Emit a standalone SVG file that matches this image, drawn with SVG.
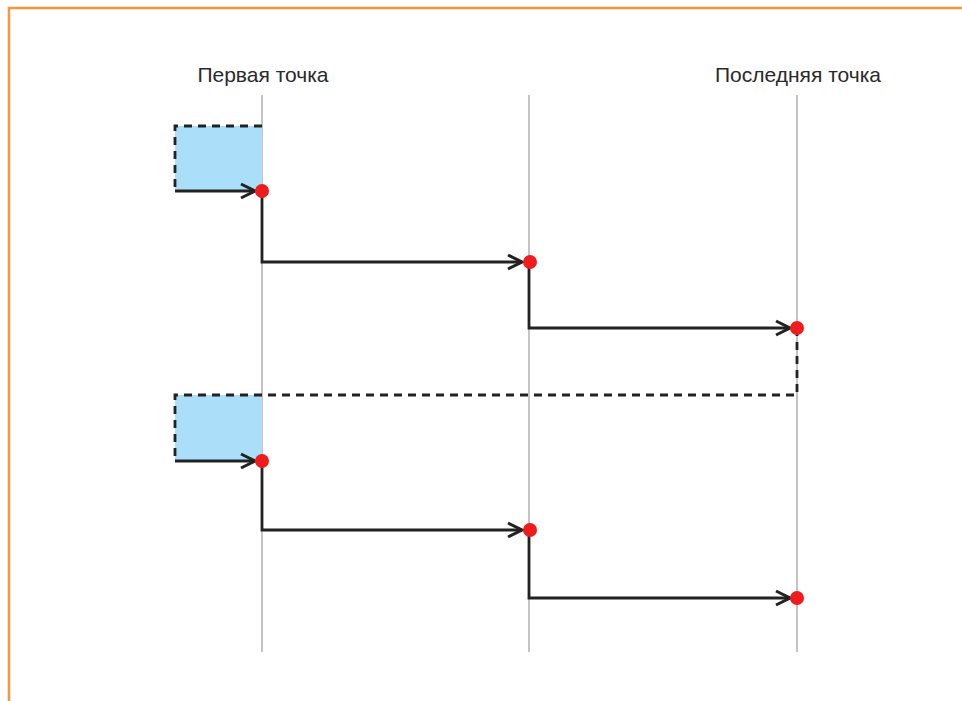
<svg xmlns="http://www.w3.org/2000/svg" width="962" height="701" viewBox="0 0 962 701">
<defs>
<style>
.guide{stroke:#c4c4c4;stroke-width:2;fill:none}
.conn{stroke:#222;stroke-width:2.8;fill:none}
.dash{stroke:#222;stroke-width:2.8;fill:none;stroke-dasharray:8,6}
.box{fill:#abdff9;stroke:none}
.dot{fill:#ee1c1c}
.lbl{font-family:"Liberation Sans",Arial,sans-serif;font-size:21px;fill:#2a2a2a;text-anchor:middle}
</style>
<marker id="arr" viewBox="0 0 18 18" refX="16" refY="9" markerWidth="18" markerHeight="18" markerUnits="userSpaceOnUse" orient="auto">
<path d="M2,2 L16,9 L2,16" fill="none" stroke="#222" stroke-width="3"/>
</marker>
</defs>
<rect width="962" height="701" fill="#fff"/>
<path d="M9,701 V8 H962" fill="none" stroke="#f7993a" stroke-width="2.5"/>
<g id="guides">
<line class="guide" x1="262" y1="95" x2="262" y2="652"/>
<line class="guide" x1="529" y1="95" x2="529" y2="652"/>
<line class="guide" x1="797" y1="95" x2="797" y2="652"/>
</g>
<text class="lbl" x="263" y="82">Первая точка</text>
<text class="lbl" x="798" y="82">Последняя точка</text>
<g id="box1"><rect class="box" x="175" y="126" width="87" height="65"/></g>
<g id="box2"><rect class="box" x="175" y="395" width="87" height="66"/></g>
<g id="connectors">
<path class="dash" d="M262,126 H175 V191"/>
<line class="conn" x1="175" y1="191" x2="255" y2="191" marker-end="url(#arr)"/>
<path class="conn" d="M262,191 V262 H522" marker-end="url(#arr)"/>
<path class="conn" d="M529,262 V328 H790" marker-end="url(#arr)"/>
<path class="dash" d="M797,328 V395 H175 V461"/>
<line class="conn" x1="175" y1="461" x2="255" y2="461" marker-end="url(#arr)"/>
<path class="conn" d="M262,461 V530 H522" marker-end="url(#arr)"/>
<path class="conn" d="M529,530 V598 H790" marker-end="url(#arr)"/>
</g>
<g id="p1"><circle class="dot" cx="262" cy="191" r="7"/></g>
<g id="p2"><circle class="dot" cx="530" cy="262" r="7"/></g>
<g id="p3"><circle class="dot" cx="797" cy="328" r="7"/></g>
<g id="p4"><circle class="dot" cx="262" cy="461" r="7"/></g>
<g id="p5"><circle class="dot" cx="530" cy="530" r="7"/></g>
<g id="p6"><circle class="dot" cx="797" cy="598" r="7"/></g>
</svg>
